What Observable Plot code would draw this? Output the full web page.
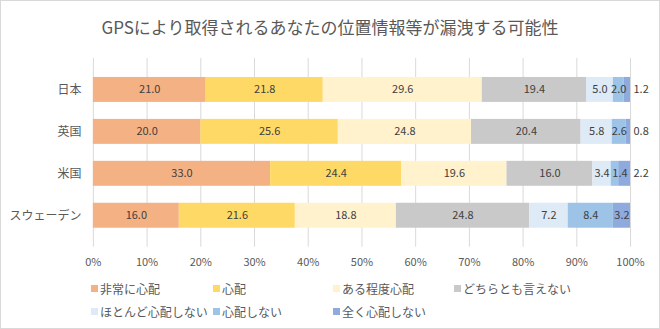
<!DOCTYPE html>
<html><head><meta charset="utf-8">
<script src="https://cdn.jsdelivr.net/npm/d3@7"></script>
<script src="https://cdn.jsdelivr.net/npm/@observablehq/plot@0.6"></script>
<style>
html,body{margin:0;padding:0;background:#fff;}
#chart{position:relative;width:658px;height:327px;border:1px solid #d9d9d9;font-family:"Noto Sans CJK JP","Noto Sans",sans-serif;color:#595959;overflow:hidden;}
#title{position:absolute;top:13px;left:0;width:658px;text-align:center;font-size:17px;color:#595959;}
#plot{position:absolute;top:49px;left:-1px;}
#legend{position:absolute;left:90px;top:279px;width:500px;font-size:12px;color:#595959;}
.item{position:absolute;display:flex;align-items:center;white-space:nowrap;}
.sw{width:7px;height:7px;margin-right:2px;}
</style>
</head><body>
<div id="chart">
  <div id="title">GPSにより取得されるあなたの位置情報等が漏洩する可能性</div>
  <div id="plot"></div>
  <div id="legend"></div>
</div>
<script>
const countries = ["日本", "英国", "米国", "スウェーデン"];
const categories = ["非常に心配", "心配", "ある程度心配", "どちらとも言えない", "ほとんど心配しない", "心配しない", "全く心配しない"];
const colors = ["#F4B183", "#FFD966", "#FFF2CC", "#C9C9C9", "#DEEBF7", "#9DC3E6", "#8FAADC"];
const japan = [21.0, 21.8, 29.6, 19.4, 5.0, 2.0, 1.2];
const uk = [20.0, 25.6, 24.8, 20.4, 5.8, 2.6, 0.8];
const us = [33.0, 24.4, 19.6, 16.0, 3.4, 1.4, 2.2];
const sweden = [16.0, 21.6, 18.8, 24.8, 7.2, 8.4, 3.2];
const xTicks = [0, 10, 20, 30, 40, 50, 60, 70, 80, 90, 100];

const series = [japan, uk, us, sweden];
const data = [];
countries.forEach((c, i) => {
  categories.forEach((cat, j) => {
    data.push({country: c, category: cat, value: series[i][j], idx: j});
  });
});
const last = categories.length - 1;
const isOutside = d => d.idx === last && d.value < 3;
const isNudged = d => d.idx !== last && d.value < 2;
const fmt = d => d.value.toFixed(1);

const plot = Plot.plot({
  width: 660,
  height: 232,
  marginLeft: 93,
  marginRight: 29,
  marginTop: 8,
  marginBottom: 35,
  style: {fontFamily: '"Noto Sans CJK JP","Noto Sans",sans-serif', fontSize: "11px", color: "#595959", background: "transparent"},
  x: {domain: [0, 100], ticks: xTicks, tickFormat: d => d + "%", label: null, tickSize: 0, tickPadding: 11},
  y: {domain: countries, label: null, padding: 0.41, tickSize: 0, tickPadding: 12},
  color: {domain: categories, range: colors},
  marks: [
    Plot.gridX(xTicks, {stroke: "#d9d9d9", strokeOpacity: 1}),
    Plot.barX(data, Plot.stackX({x: "value", y: "country", fill: "category", order: categories})),
    Plot.text(data, Plot.stackX({x: "value", y: "country", z: "category", order: categories,
      text: d => (isOutside(d) || isNudged(d)) ? "" : fmt(d), fill: "#404040", fontSize: 11})),
    Plot.text(data, Plot.stackX({x: "value", y: "country", z: "category", order: categories,
      text: d => isNudged(d) ? fmt(d) : "", dx: 5, fill: "#404040", fontSize: 11})),
    Plot.text(data.filter(isOutside), {x: () => 100, y: "country", text: fmt,
      textAnchor: "start", dx: 3, fill: "#404040", fontSize: 11}),
    Plot.axisY({tickSize: 0, tickPadding: 12, fontSize: 12, label: null}),
    Plot.axisX({ticks: xTicks, tickFormat: d => d + "%", tickSize: 0, tickPadding: 11, label: null})
  ]
});
document.getElementById("plot").appendChild(plot);

const legend = document.getElementById("legend");
const lx = [0, 122, 242, 363];
categories.forEach((cat, j) => {
  const row = Math.floor(j / 4), col = j % 4;
  const el = document.createElement("div");
  el.className = "item";
  el.style.left = lx[col] + "px";
  el.style.top = (row * 23) + "px";
  el.innerHTML = `<span class="sw" style="background:${colors[j]}"></span><span>${cat}</span>`;
  legend.appendChild(el);
});
</script>
</body></html>
